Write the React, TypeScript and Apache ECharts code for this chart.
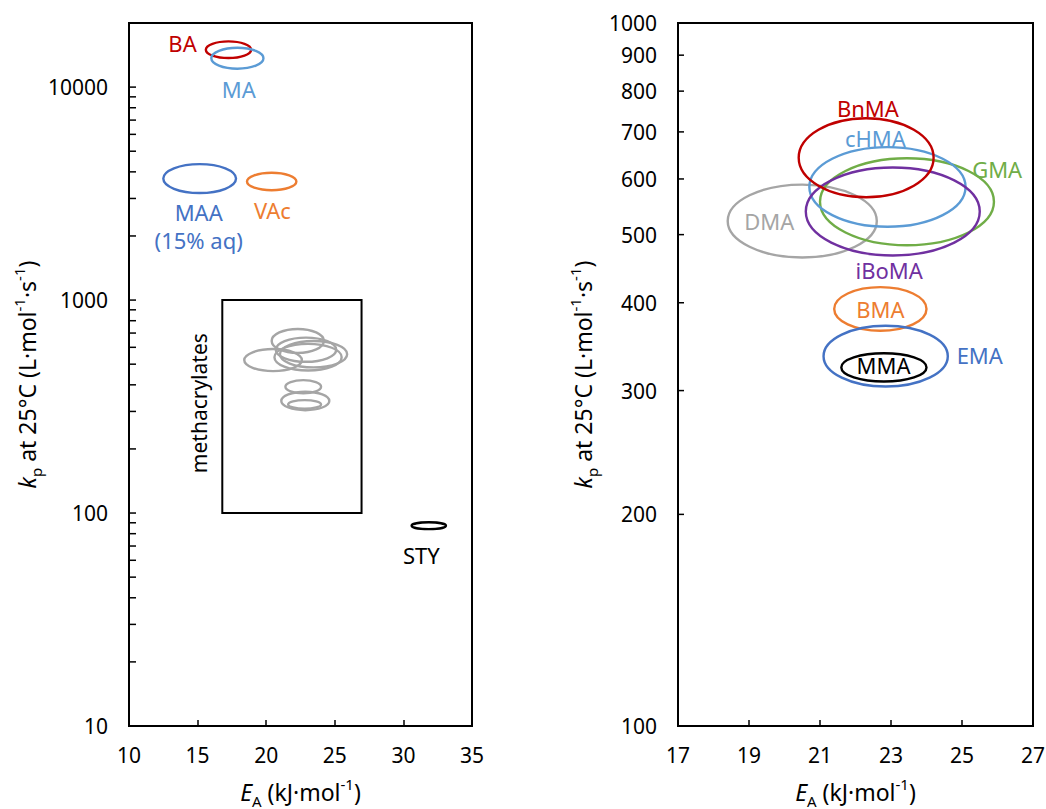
import React, { useEffect, useRef } from 'react';
import * as echarts from 'echarts';

const FONT = '"Noto Sans", "Open Sans", sans-serif';
const FS = 21;
const TFS = 23;

// ---------- Left panel (all monomers) ----------
const leftXMin = 10;
const leftXMax = 35;
const leftYMin = 10;
const leftYMax = 20000;
// [EA low, EA high, kp low, kp high]
const leftNames = ['BA', 'MA', 'MAA', 'VAc', 'STY'];
const leftBounds = [
  [15.6, 18.9, 13700, 16400],
  [16.0, 19.8, 12200, 15300],
  [12.5, 17.8, 3180, 4350],
  [18.6, 22.2, 3280, 3960],
  [30.6, 33.1, 84, 90.5],
];
const leftColors = ['#C00000', '#5B9BD5', '#4472C4', '#ED7D31', '#000000'];
const leftLabelTexts = ['BA', 'MA', 'MAA\n(15% aq)', 'VAc', 'STY'];
const leftLabelPos = [
  [13.9, 16140],
  [18.0, 9790],
  [15.08, 2225],
  [20.45, 2645],
  [31.31, 63.5],
];
const methBox = [16.8, 26.95, 100, 1000];
const methBoxLabelPos = [15.08, 328];
const leftYTicks = [
  20, 30, 40, 50, 60, 70, 80, 90, 100,
  200, 300, 400, 500, 600, 700, 800, 900, 1000,
  2000, 3000, 4000, 5000, 6000, 7000, 8000, 9000, 10000,
];

// ---------- Right panel (methacrylates) ----------
const rightXMin = 17;
const rightXMax = 27;
const rightYMin = 100;
const rightYMax = 1000;
const rightXLabels = [17, 19, 21, 23, 25, 27];
const rightXTicks = [19, 21, 23, 25];
const rightYLabels = [100, 200, 300, 400, 500, 600, 700, 800, 900, 1000];
const rightYTicks = [200, 300, 400, 500, 600, 700, 800, 900];
const methNames = ['DMA', 'GMA', 'cHMA', 'iBoMA', 'BnMA', 'BMA', 'EMA', 'MMA'];
const methBounds = [
  [18.4, 22.6, 464, 589],
  [21.0, 25.9, 483, 642],
  [20.7, 25.1, 513, 666],
  [20.6, 25.5, 467, 623],
  [20.4, 24.2, 565, 732],
  [21.4, 24.0, 365, 421],
  [21.1, 24.6, 304, 371],
  [21.6, 24.0, 309, 339],
];
const methColors = ['#A5A5A5', '#70AD47', '#5B9BD5', '#7030A0', '#C00000', '#ED7D31', '#4472C4', '#000000'];
const methLabelPos = [
  [19.57, 523],
  [25.99, 619],
  [22.56, 686],
  [22.95, 445],
  [22.35, 756],
  [22.70, 392],
  [25.5, 337],
  [22.79, 326],
];
const grayColor = '#A5A5A5';

const richAxis = {
  n: { fontSize: TFS, fontFamily: FONT, color: '#000', lineHeight: 32 },
  i: { fontSize: TFS, fontFamily: FONT, color: '#000', lineHeight: 32, fontStyle: 'italic' },
  sup: { fontSize: 15, fontFamily: FONT, color: '#000', lineHeight: 21, verticalAlign: 'top' },
  sub: { fontSize: 15, fontFamily: FONT, color: '#000', lineHeight: 21, verticalAlign: 'bottom' },
};
const xTitle = '{i|E}{sub|A}{n| (kJ·mol}{sup|-1}{n|)}';
const yTitle = '{i|k}{sub|p}{n| at 25°C (L·mol}{sup|-1}{n|·s}{sup|-1}{n|)}';

function ellipseRender(colors: string[], width: number) {
  return (params: any, api: any) => {
    const a = api.coord([api.value(0), api.value(2)]);
    const b = api.coord([api.value(1), api.value(3)]);
    return {
      type: 'ellipse',
      shape: {
        cx: (a[0] + b[0]) / 2,
        cy: (a[1] + b[1]) / 2,
        rx: Math.abs(b[0] - a[0]) / 2,
        ry: Math.abs(b[1] - a[1]) / 2,
      },
      style: { fill: 'none', stroke: colors[params.dataIndex % colors.length], lineWidth: width },
    };
  };
}

function tickRender(len: number) {
  return (params: any, api: any) => {
    const p = api.coord([api.value(0), api.value(1)]);
    return {
      type: 'line',
      shape: { x1: p[0], y1: p[1], x2: p[0] + len, y2: p[1] },
      style: { stroke: '#000', lineWidth: 1.5 },
    };
  };
}

function labelSeries(xi: number, texts: string[], pos: number[][], colors: string[], extra: any = {}) {
  return {
    type: 'scatter',
    xAxisIndex: xi,
    yAxisIndex: xi,
    symbolSize: 0,
    silent: true,
    z: 10,
    itemStyle: { opacity: 1 },
    data: pos.map((p, i) => ({
      value: p,
      label: { color: colors[i] },
      name: texts[i],
    })),
    label: {
      show: true,
      position: 'inside',
      opacity: 1,
      textBorderWidth: 0,
      formatter: (p: any) => p.name,
      fontSize: 22,
      fontFamily: FONT,
      lineHeight: 28,
      ...extra,
    },
  };
}

const axisLineStyle = { show: true, lineStyle: { color: '#000', width: 2 } };

export default function App() {
  const ref = useRef<HTMLDivElement>(null);
  useEffect(() => {
    if (!ref.current) return;
    const chart = echarts.init(ref.current, null, { renderer: 'svg' });
    const option: any = {
      animation: false,
      backgroundColor: '#fff',
      textStyle: { fontFamily: FONT },
      grid: [
        { left: 129, top: 23, width: 343, height: 703, outerBoundsMode: 'none', containLabel: false, show: true, borderColor: '#000', borderWidth: 2, backgroundColor: 'transparent' },
        { left: 678, top: 23, width: 355, height: 703, outerBoundsMode: 'none', containLabel: false, show: true, borderColor: '#000', borderWidth: 2, backgroundColor: 'transparent' },
      ],
      xAxis: [
        {
          type: 'value', gridIndex: 0, min: leftXMin, max: leftXMax, interval: 5,
          axisLine: axisLineStyle,
          axisTick: { show: true, inside: true, length: 6, lineStyle: { color: '#000', width: 1.5 } },
          axisLabel: { color: '#000', fontSize: FS, fontFamily: FONT, margin: 18 },
          splitLine: { show: false },
          name: xTitle, nameLocation: 'middle', nameGap: 50,
          nameTextStyle: { rich: richAxis },
        },
        {
          type: 'value', gridIndex: 1, min: rightXMin, max: rightXMax,
          axisLine: axisLineStyle,
          axisTick: { show: true, inside: true, length: 6, customValues: rightXTicks, lineStyle: { color: '#000', width: 1.5 } },
          axisLabel: { color: '#000', fontSize: FS, fontFamily: FONT, margin: 18, customValues: rightXLabels },
          splitLine: { show: false },
          name: xTitle, nameLocation: 'middle', nameGap: 50,
          nameTextStyle: { rich: richAxis },
        },
      ],
      yAxis: [
        {
          type: 'log', logBase: 10, gridIndex: 0, min: leftYMin, max: leftYMax,
          axisLine: axisLineStyle,
          axisTick: { show: false },
          axisLabel: {
            color: '#000', fontSize: FS, fontFamily: FONT, margin: 21,
            formatter: (v: number) => {
              const l = Math.log10(v);
              return Math.abs(l - Math.round(l)) < 1e-6 ? String(Math.round(v)) : '';
            },
          },
          splitLine: { show: false },
          name: yTitle, nameLocation: 'middle', nameGap: 86, nameRotate: 90,
          nameTextStyle: { rich: richAxis },
        },
        {
          type: 'log', logBase: 10, gridIndex: 1, min: rightYMin, max: rightYMax,
          axisLine: axisLineStyle,
          axisTick: { show: false },
          axisLabel: { show: false },
          splitLine: { show: false },
          name: yTitle, nameLocation: 'middle', nameGap: 79, nameRotate: 90,
          nameTextStyle: { rich: richAxis },
        },
      ],
      series: [
        {
          type: 'custom', xAxisIndex: 0, yAxisIndex: 0, silent: true, z: 5,
          encode: { x: 0, y: 1 },
          data: leftYTicks.map((v) => [leftXMin, v]),
          renderItem: tickRender(7),
        },
        {
          type: 'custom', xAxisIndex: 1, yAxisIndex: 1, silent: true, z: 5,
          encode: { x: 0, y: 1 },
          data: rightYTicks.map((v) => [rightXMin, v]),
          renderItem: tickRender(6),
        },
        {
          type: 'scatter', xAxisIndex: 1, yAxisIndex: 1, symbolSize: 0, silent: true,
          itemStyle: { opacity: 1 },
          data: rightYLabels.map((v) => [rightXMin, v]),
          label: {
            show: true, position: 'left', distance: 21, color: '#000', opacity: 1, fontSize: FS, fontFamily: FONT,
            formatter: (p: any) => String(p.value[1]),
          },
        },
        {
          type: 'custom', xAxisIndex: 0, yAxisIndex: 0, silent: true, z: 4,
          encode: { x: [0, 1], y: [2, 3] },
          data: leftBounds,
          renderItem: ellipseRender(leftColors, 2.4),
        },
        {
          type: 'custom', xAxisIndex: 0, yAxisIndex: 0, silent: true, z: 3,
          encode: { x: [0, 1], y: [2, 3] },
          data: methBounds,
          renderItem: ellipseRender([grayColor], 2.4),
        },
        {
          type: 'custom', xAxisIndex: 0, yAxisIndex: 0, silent: true, z: 3,
          encode: { x: [0, 1], y: [2, 3] },
          data: [methBox],
          renderItem: (params: any, api: any) => {
            const a = api.coord([api.value(0), api.value(3)]);
            const b = api.coord([api.value(1), api.value(2)]);
            return {
              type: 'rect',
              shape: { x: a[0], y: a[1], width: b[0] - a[0], height: b[1] - a[1] },
              style: { fill: 'none', stroke: '#000', lineWidth: 2 },
            };
          },
        },
        labelSeries(0, leftLabelTexts, leftLabelPos, leftColors),
        labelSeries(0, ['methacrylates'], [methBoxLabelPos], ['#000'], { rotate: 90, fontSize: 21 }),
        {
          type: 'custom', xAxisIndex: 1, yAxisIndex: 1, silent: true, z: 4,
          encode: { x: [0, 1], y: [2, 3] },
          data: methBounds,
          renderItem: ellipseRender(methColors, 2.4),
        },
        labelSeries(1, methNames, methLabelPos, methColors),
      ],
    };
    chart.setOption(option);
    return () => chart.dispose();
  }, []);
  return (
    <div
      ref={ref}
      style={{ position: 'absolute', left: 0, top: 0, width: 1046, height: 809, background: '#fff' }}
    />
  );
}
